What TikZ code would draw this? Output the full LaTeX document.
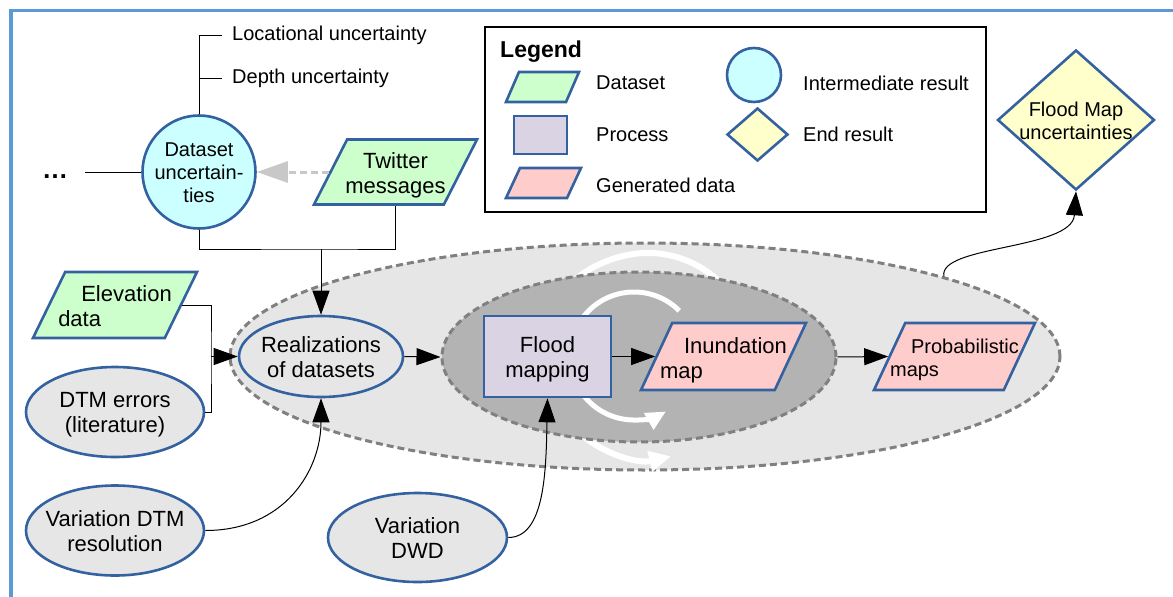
\documentclass[tikz,border=0pt]{standalone}
\usepackage{fontspec}
\setmainfont{Liberation Sans}
\usetikzlibrary{shapes.geometric,arrows.meta}
\definecolor{bordblue}{RGB}{52,98,160}
\definecolor{framecol}{RGB}{91,155,213}
\definecolor{dcyan}{RGB}{204,255,255}
\definecolor{dgreen}{RGB}{204,255,204}
\definecolor{dpink}{RGB}{255,204,204}
\definecolor{dyellow}{RGB}{255,255,204}
\definecolor{lav}{RGB}{217,211,228}
\definecolor{ngray}{RGB}{230,230,230}
\definecolor{mgray}{RGB}{179,179,179}
\definecolor{dashgray}{RGB}{128,128,128}
\definecolor{arrgray}{RGB}{200,200,200}
\newcommand\ctext[1]{\raisebox{-8.5pt}[0pt][0pt]{\makebox[0pt]{\begin{tabular}{@{}c@{}}#1\end{tabular}}}}
% #1 half height, #2 column alignment, #3 lines
\newcommand\ptext[3]{\raisebox{-9.5pt}{\makebox[0pt]{\begin{tabular}{@{}#2@{}}#3\end{tabular}}}\rule[-#1]{0pt}{\dimexpr #1*2\relax}}
\begin{document}
\begin{tikzpicture}[x=1pt,y=-1pt,
  bline/.style={draw=bordblue, line width=2.6pt},
  txtbig/.style={font=\fontsize{22pt}{25pt}\selectfont},
  txtsmall/.style={font=\fontsize{20pt}{23pt}\selectfont},
  para/.style={trapezium, trapezium stretches body=true, bline, inner sep=0pt},
  ell/.style={ellipse, bline, fill=ngray, inner sep=0pt, txtbig},
  lbl/.style={anchor=west, inner sep=0pt, txtsmall},
  conn/.style={draw=black, line width=1pt},
  arr/.style={draw=black, line width=1pt, -{Triangle[length=24pt,width=17pt]}},
  whitearcA/.style={draw=white, line width=6pt, -{Triangle[length=22pt,width=20pt]}},
  whitearcB/.style={draw=white, line width=5pt, -{Triangle[length=20pt,width=18pt]}},
  region/.style={ellipse, draw=dashgray, line width=3pt, dash pattern=on 7pt off 4pt, inner sep=0pt}
]
\useasboundingbox (0,0) rectangle (1173,597);
% frame
\draw[framecol, line width=3.5pt] (11,597) -- (11,10.5) -- (1173,10.5);

% legend
\node[draw=black, line width=1.4pt, fill=white, minimum width=501pt, minimum height=185pt, inner sep=0pt] (legend) at (735.5,119.5) {};
\node[anchor=west, inner sep=0pt, font=\bfseries\fontsize{23pt}{25pt}\selectfont] (legtitle) at (500,52) {Legend};
\node[para, trapezium left angle=66.6, trapezium right angle=113.4, minimum width=73pt, fill=dgreen] (lds) at (542.5,87) {\rule[-15pt]{0pt}{30pt}};
\node[rectangle, bline, fill=lav, minimum width=53pt, minimum height=38pt, inner sep=0pt] (lpr) at (540.5,135) {};
\node[para, trapezium left angle=65, trapezium right angle=115, minimum width=75pt, fill=dpink] (lgen) at (543.5,183) {\rule[-15pt]{0pt}{30pt}};
\node[circle, bline, fill=dcyan, minimum size=54pt, inner sep=0pt] (lint) at (754,75) {};
\node[diamond, bline, fill=dyellow, minimum width=61pt, minimum height=53pt, inner sep=0pt] (lend) at (757.5,134.5) {};
\node[lbl] (tds) at (596,82.5) {Dataset};
\node[lbl] (tpr) at (596,135) {Process};
\node[lbl] (tgen) at (596,185.5) {Generated data};
\node[lbl] (tint) at (803,83.5) {Intermediate result};
\node[lbl] (tend) at (803,134.5) {End result};

% regions and cycles
\node[region, fill=ngray, minimum width=830pt, minimum height=227pt] (outer) at (645,356.5) {};
\begin{scope}[shift={(648,356)}]
\begin{scope}[y=1pt]
\draw[whitearcA] (35:103) arc[start angle=35, end angle=150, radius=103];
\draw[whitearcA] (228:103) arc[start angle=228, end angle=283, radius=103];
\end{scope}
\end{scope}
\node[region, fill=mgray, minimum width=394pt, minimum height=170pt] (inner) at (639,357) {};
\begin{scope}[shift={(634,356)}]
\begin{scope}[y=1pt]
\draw[whitearcB] (45:64) arc[start angle=45, end angle=175, radius=64];
\draw[whitearcB] (205:64) arc[start angle=205, end angle=300, radius=64];
\end{scope}
\end{scope}

% dataset uncertainties
\node[circle, bline, fill=dcyan, minimum size=113pt, inner sep=0pt, txtsmall] (dsu) at (199,172) {\ctext{Dataset\\uncertain-\\ties}};
\node[anchor=west, inner xsep=10pt, inner ysep=0pt, txtsmall] (loc) at (222,35) {Locational uncertainty};
\node[anchor=west, inner xsep=10pt, inner ysep=0pt, txtsmall] (dep) at (222,78) {Depth uncertainty};
\draw[conn] (dsu.north) |- (loc.west);
\draw[conn] (dsu.north |- dep.west) -- (dep.west);
\node[inner sep=0pt, font=\bfseries\fontsize{26pt}{28pt}\selectfont] (dots) at (55,177) {…};
\coordinate (dotsend) at (85,172);
\draw[conn] (dotsend) -- (dsu.west);

\node[para, trapezium left angle=63, trapezium right angle=117, minimum width=163pt, fill=dgreen, txtbig] (tw) at (395.5,172) {\ptext{32.5pt}{c}{Twitter\\messages}};
\draw[draw=arrgray, line width=3pt, dash pattern=on 7pt off 4pt, -{Triangle[length=31pt,width=21pt,fill=arrgray]}] (tw.west) -- (dsu.east);

% inputs
\node[para, trapezium left angle=64, trapezium right angle=116, minimum width=164pt, fill=dgreen, txtbig] (elev) at (115,305) {\ptext{33pt}{l}{\hspace*{23pt}Elevation\\data}};
\node[ell, minimum width=178pt, minimum height=90pt] (dtm) at (115,412) {\ctext{DTM errors\\(literature)}};
\node[ell, minimum width=178pt, minimum height=90pt] (vdtm) at (115,530.5) {\ctext{Variation DTM\\resolution}};
\node[ell, minimum width=179pt, minimum height=89pt] (vdwd) at (417.5,537.5) {\ctext{Variation\\DWD}};
\node[ell, minimum width=164pt, minimum height=81pt] (real) at (321,356.5) {\ctext{Realizations\\of datasets}};

% process chain
\node[rectangle, bline, fill=lav, minimum width=127pt, minimum height=81pt, inner sep=0pt, txtbig] (flood) at (547.5,356.5) {\ctext{Flood\\mapping}};
\node[para, trapezium left angle=65, trapezium right angle=115, minimum width=165pt, fill=dpink, txtbig] (inund) at (723.5,356.5) {\ptext{33.5pt}{l}{\hspace*{24pt}Inundation\\map}};
\node[para, trapezium left angle=65, trapezium right angle=115, minimum width=161pt, fill=dpink, txtsmall] (prob) at (954.5,356.5) {\ptext{33.5pt}{l}{\hspace*{21pt}Probabilistic\\maps}};
\node[diamond, bline, fill=dyellow, minimum width=157pt, minimum height=140pt, inner sep=0pt, txtsmall] (fmu) at (1076,120) {\ctext{Flood Map\\uncertainties}};

% connectors
\coordinate (join) at (321,249);
\draw[conn] (dsu.south) |- (join) -| (tw.center |- tw.south);
\draw[arr] (join) -- (real.north);
\coordinate (brk) at (211,356.5);
\draw[conn] (elev.east) -| (brk) |- (dtm.east);
\draw[arr] (brk) -- (real.west);
\draw[arr] (vdtm.east) .. controls (285,530.5) and (321,470) .. (real.south);
\draw[arr] (vdwd.east) .. controls (545,537.5) and (546,470) .. (flood.south);
\draw[arr] (real.east) -- (inner.west);
\draw[arr] (flood.east) -- (inund.west);
\draw[arr] (inner.east) -- (prob.west);
\draw[arr] (outer.15) .. controls (938,245) and (1072,250) .. (fmu.south);
\end{tikzpicture}
\end{document}
